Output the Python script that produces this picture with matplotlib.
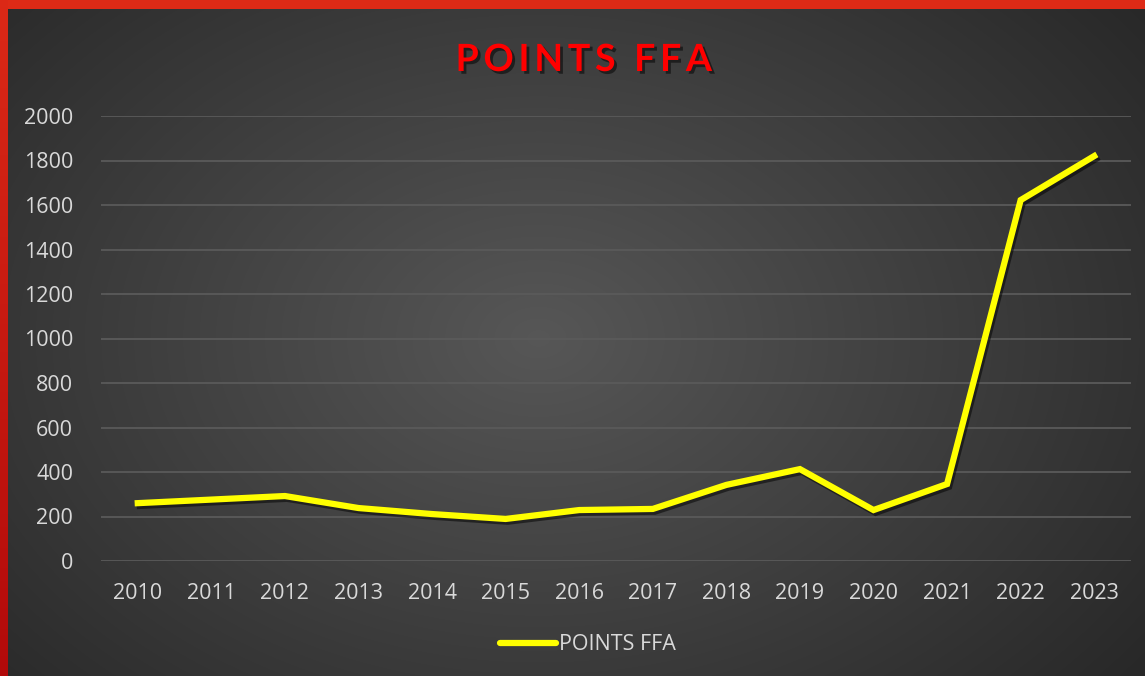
import numpy as np
import matplotlib.pyplot as plt
import matplotlib.patheffects as pe
from matplotlib.lines import Line2D

years = ["2010", "2011", "2012", "2013", "2014", "2015", "2016",
         "2017", "2018", "2019", "2020", "2021", "2022", "2023"]
points_ffa = [260, 276, 292, 238, 211, 189, 229, 234, 342, 413, 229, 346, 1622, 1820]
y_ticks = [0, 200, 400, 600, 800, 1000, 1200, 1400, 1600, 1800, 2000]

W, H = 1145, 676
fig = plt.figure(figsize=(W / 100, H / 100), dpi=100)

# radial gradient background
bg = fig.add_axes([0, 0, 1, 1], zorder=-10)
yy, xx = np.mgrid[0:H, 0:W]
r = np.sqrt(((xx - W * 0.47) / (W * 0.62)) ** 2 + ((yy - H * 0.5) / (H * 0.75)) ** 2)
shade = np.clip(0.34 - 0.17 * r, 0.16, 0.34)
bg.imshow(np.dstack([shade, shade, shade]), aspect="auto", extent=[0, W, H, 0])
bg.set_xlim(0, W)
bg.set_ylim(H, 0)
bg.axis("off")

# red borders
top = fig.add_axes([0, 1 - 9 / H, 1, 9 / H], zorder=-5)
top.axis("off")
top.add_patch(plt.Rectangle((0, 0), 1, 1, color="#dd2a16", transform=top.transAxes))
left = fig.add_axes([0, 0, 8 / W, 1], zorder=-5)
grad = np.linspace(0, 1, 100)[:, None]
reds = np.dstack([0.86 - 0.16 * grad, 0.16 - 0.12 * grad, 0.09 - 0.05 * grad])
left.imshow(reds, aspect="auto", extent=[0, 1, 0, 1], origin="upper")
left.axis("off")

ax = fig.add_axes([101 / W, (H - 561) / H, 1030 / W, 445 / H])
ax.set_facecolor("none")
x = np.arange(len(years))
ax.plot(x, points_ffa, color="#ffff00", linewidth=4.5, solid_joinstyle="miter",
        path_effects=[pe.SimpleLineShadow(offset=(1.5, -2), shadow_color="black", alpha=0.5),
                      pe.Normal()], zorder=3)
ax.set_xlim(-0.5, len(years) - 0.5)
ax.set_ylim(0, 2000)
ax.set_xticks(x)
ax.set_xticklabels(years)
ax.set_yticks(y_ticks)
ax.grid(axis="y", color="#5a5a5a", linewidth=1.3)
ax.tick_params(length=0, colors="#d9d9d9", labelsize=15.5, pad=16)
ax.tick_params(axis="y", pad=20)
for spine in ax.spines.values():
    spine.set_visible(False)
for lbl in ax.get_xticklabels() + ax.get_yticklabels():
    lbl.set_fontfamily("Open Sans")
    lbl.set_color("#d9d9d9")

title = "\u2009".join("POINTS FFA")
fig.text(584 / W, 1 - 60 / H, title, color="#ff0000", fontsize=27,
         fontweight="bold", fontfamily=["Lato", "DejaVu Sans"], ha="center", va="center",
         path_effects=[pe.withSimplePatchShadow(offset=(2, -2), shadow_rgbFace="black", alpha=0.5)])

handle = Line2D([], [], color="#ffff00", linewidth=4.5, solid_capstyle="round")
leg = fig.legend([handle], ["POINTS FFA"], loc="center", bbox_to_anchor=(588 / W, 1 - 645 / H),
                 frameon=False, handlelength=2.6, handletextpad=0.15,
                 prop={"family": "Open Sans", "size": 15.5})
for t in leg.get_texts():
    t.set_color("#d9d9d9")

fig.savefig("out.png", dpi=100)
